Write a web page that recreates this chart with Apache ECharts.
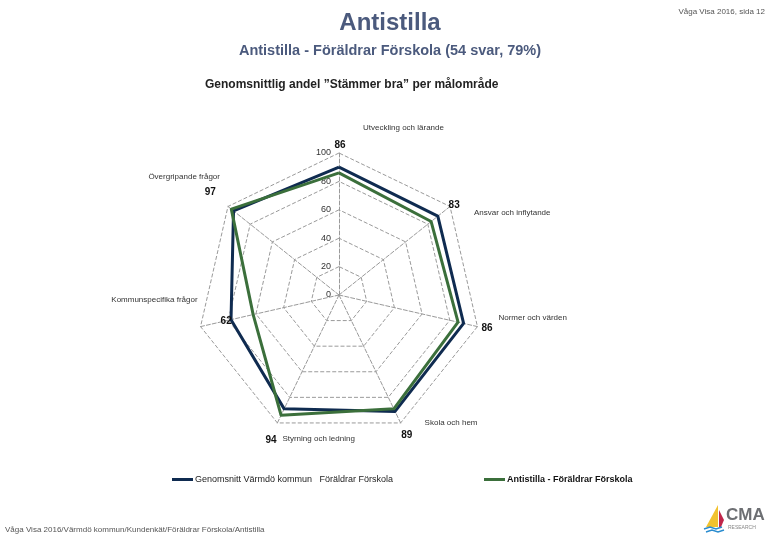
<!DOCTYPE html>
<html><head><meta charset="utf-8">
<script src="https://cdn.jsdelivr.net/npm/echarts@6/dist/echarts.min.js"></script>
<style>html,body{margin:0;padding:0;background:#fff}#c{width:780px;height:540px}</style>
</head><body><div id="c"></div>
<script>
// ---- data ----
const indicatorNames = ['Utveckling och lärande','Övergripande frågor','Kommunspecifika frågor','Styrning och ledning','Skola och hem','Normer och värden','Ansvar och inflytande'];
const kommunValues = [90, 95, 78, 89, 91, 90, 89];
const antistillaValues = [86, 97, 62, 94, 89, 86, 83];
const scaleTicks = [0, 20, 40, 60, 80, 100];
const seriesNames = ['Genomsnitt Värmdö kommun   Föräldrar Förskola', 'Antistilla - Föräldrar Förskola'];

// ---- style ----
const FONT = 'Liberation Sans, Arial, sans-serif';
const CENTER = [339, 295];
const RADIUS = 142;
const labelOffsets = [[1,-28],[-21,-17],[-27,7],[-10,25],[13,26],[29,6],[23,-16]];
// name placement per indicator
const nameStyles = [
  { align: 'left',   verticalAlign: 'bottom', lineHeight: 50, padding: [0, 0, 0, 24] },
  { align: 'right',  verticalAlign: 'bottom', lineHeight: 59, padding: [0, 8, 0, 0] },
  { align: 'right',  verticalAlign: 'bottom', lineHeight: 53, padding: [0, 3, 0, 0] },
  { align: 'left',   verticalAlign: 'top',    lineHeight: 32, padding: [0, 0, 0, 5] },
  { align: 'left',   verticalAlign: 'middle', padding: [0, 0, 0, 24] },
  { align: 'left',   verticalAlign: 'bottom', lineHeight: 17, padding: [0, 0, 0, 21] },
  { align: 'left',   verticalAlign: 'top',    lineHeight: 13, padding: [0, 0, 0, 24] }
];

const maxV = scaleTicks[scaleTicks.length - 1];
const indicator = indicatorNames.map((n, i) => {
  const o = { name: n, min: scaleTicks[0], max: maxV, nameTextStyle: nameStyles[i] };
  if (i === 0) o.axisLabel = { show: true, fontSize: 9, color: '#333', fontFamily: FONT, margin: 8 };
  return o;
});

const chart = echarts.init(document.getElementById('c'));
chart.setOption({
  backgroundColor: '#fff',
  animation: false,
  title: [
    { text: 'Antistilla', left: 390, top: 11, padding: 0, textAlign: 'center',
      textStyle: { fontSize: 24, fontWeight: 'bold', color: '#4b5a7d', fontFamily: FONT } },
    { text: 'Antistilla - Föräldrar Förskola (54 svar, 79%)', left: 390, top: 43, padding: 0, textAlign: 'center',
      textStyle: { fontSize: 14.5, fontWeight: 'bold', color: '#4b5a7d', fontFamily: FONT } },
    { text: 'Genomsnittlig andel ”Stämmer bra” per målområde', left: 205, top: 79, padding: 0,
      textStyle: { fontSize: 12, fontWeight: 'bold', color: '#222', fontFamily: FONT } },
    { text: 'Våga Visa 2016, sida 12', right: 15, top: 8, padding: 0,
      textStyle: { fontSize: 8, fontWeight: 'normal', color: '#555', fontFamily: FONT } },
    { text: 'Våga Visa 2016/Värmdö kommun/Kundenkät/Föräldrar Förskola/Antistilla', left: 5, top: 526, padding: 0,
      textStyle: { fontSize: 8, fontWeight: 'normal', color: '#555', fontFamily: FONT } }
  ],
  legend: [
    { left: 172, top: 475, padding: 0, data: [seriesNames[0]], icon: 'rect', itemWidth: 21, itemHeight: 3, selectedMode: false,
      textStyle: { fontSize: 9, color: '#222', fontFamily: FONT, padding: [0,0,0,-3] } },
    { left: 484, top: 475, padding: 0, data: [seriesNames[1]], icon: 'rect', itemWidth: 21, itemHeight: 3, selectedMode: false,
      textStyle: { fontSize: 9, color: '#111', fontWeight: 'bold', fontFamily: FONT, padding: [0,0,0,-3] } }
  ],
  radar: {
    center: CENTER,
    radius: RADIUS,
    startAngle: 90,
    shape: 'polygon',
    splitNumber: scaleTicks.length - 1,
    indicator: indicator,
    nameGap: 0,
    axisName: { color: '#333', fontSize: 8, fontFamily: FONT },
    axisLine: { lineStyle: { color: '#9a9a9a', type: 'dashed', width: 1 } },
    splitLine: { lineStyle: { color: '#9a9a9a', type: 'dashed', width: 1 } },
    splitArea: { show: false },
    axisTick: { show: false },
    axisLabel: { show: false }
  },
  series: [{
    type: 'radar',
    z: 2,
    symbol: 'none',
    lineStyle: { color: '#0f2b50', width: 3 },
    itemStyle: { color: '#0f2b50' },
    data: [{ name: seriesNames[0], value: kommunValues }]
  }, {
    type: 'radar',
    z: 3,
    symbol: 'circle',
    symbolSize: 1,
    lineStyle: { color: '#3b6f3b', width: 3 },
    itemStyle: { color: '#3b6f3b' },
    label: { show: true, fontSize: 10, fontWeight: 'bold', color: '#111', fontFamily: FONT },
    labelLayout: function (p) {
      const r = p.rect;
      const x = r.x + r.width / 2, y = r.y + r.height / 2;
      let ang = Math.atan2(CENTER[1] - y, x - CENTER[0]) * 180 / Math.PI - 90;
      ang = ((ang % 360) + 360) % 360;
      const idx = Math.round(ang / (360 / indicatorNames.length)) % indicatorNames.length;
      const off = labelOffsets[idx];
      return { x: x + off[0], y: y + off[1], align: 'center', verticalAlign: 'middle' };
    },
    data: [{ name: seriesNames[1], value: antistillaValues }]
  }],
  graphic: [
    { type: 'polygon', shape: { points: [[718,505],[706,527],[718,527]] }, style: { fill: '#f2c22e' } },
    { type: 'polygon', shape: { points: [[719,510],[724,520],[721,527],[719,527]] }, style: { fill: '#c0264a' } },
    { type: 'polyline', shape: { points: [[704,529],[710,527],[716,529],[722,527]] }, style: { stroke: '#2a8ccf', lineWidth: 1.5, fill: null } },
    { type: 'polyline', shape: { points: [[706,532],[712,530],[718,532],[724,530]] }, style: { stroke: '#2a8ccf', lineWidth: 1.5, fill: null } },
    { type: 'text', left: 726, top: 507, style: { text: 'CMA', fontSize: 17, fontWeight: 'bold', fill: '#6d6f73', fontFamily: FONT } },
    { type: 'text', left: 728, top: 525, style: { text: 'RESEARCH', fontSize: 5, fill: '#888', fontFamily: FONT } }
  ]
});
</script></body></html>
